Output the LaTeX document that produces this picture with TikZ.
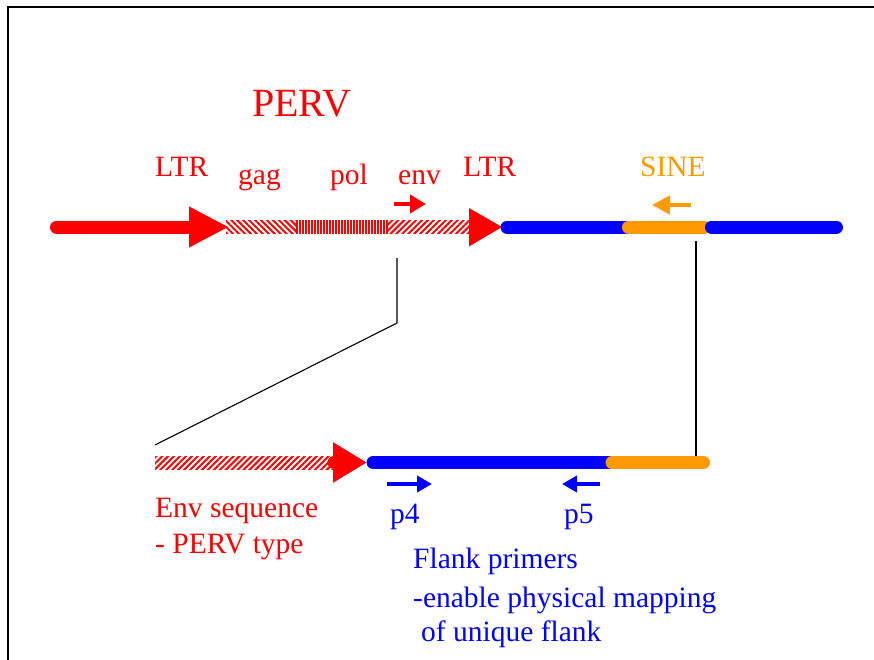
\documentclass[tikz,border=0pt]{standalone}
\usepackage{fontspec}
\setmainfont{Liberation Serif}
\usetikzlibrary{arrows.meta,patterns.meta}
\definecolor{pervred}{HTML}{FF0000}
\definecolor{flankblue}{HTML}{0000FF}
\definecolor{sineorange}{HTML}{FF9900}
\tikzset{
  lbl/.style={anchor=base west, inner sep=0pt, font=\fontsize{29.5}{35}\selectfont},
  redlbl/.style={lbl, text=pervred},
  bluelbl/.style={lbl, text=flankblue},
  orangelbl/.style={lbl, text=sineorange},
  thickbar/.style={line width=13pt, line cap=round},
  smallarrow/.style={line width=4pt, -{Triangle[length=16pt,width=18pt]}},
  hatch/.style={pattern color=pervred},
  connector/.style={line width=1.1pt, black},
}
\begin{document}
\begin{tikzpicture}[x=1pt,y=-1pt]
\useasboundingbox (0,0) rectangle (874,660);
% frame
\draw[line width=1.5pt] (874,7) -- (8,7) -- (8,660);

% title
\node[redlbl, font=\fontsize{40}{46}\selectfont] (perv) at (252,117) {PERV};

% labels top
\node[redlbl] (ltr1) at (155,177) {LTR};
\node[redlbl] (gag) at (238,185) {gag};
\node[redlbl] (pol) at (330,185) {pol};
\node[redlbl] (env) at (398,185) {env};
\node[redlbl] (ltr2) at (463,177) {LTR};
\node[orangelbl] (sine) at (640,177) {SINE};

% top bar
\fill[hatch, pattern={Lines[angle=-45,distance=4.2pt,line width=2pt]}] (226,220.5) rectangle (296,233.5);
\fill[hatch, pattern={Lines[angle=90,distance=3pt,line width=1.4pt]}] (296,220.5) rectangle (388,233.5);
\fill[hatch, pattern={Lines[angle=45,distance=4.2pt,line width=2pt]}] (388,220.5) rectangle (471,233.5);
\draw[thickbar, pervred, -{Triangle[length=40pt,width=38pt]}] (56.5,227) -- (229,227);
\fill[pervred] (469,208) -- (502,227) -- (469,246.5) -- cycle;
\draw[thickbar, flankblue] (507,227) -- (628.5,227);
\draw[thickbar, sineorange] (628.5,227) -- (704.5,227);
\draw[thickbar, flankblue] (711.5,227) -- (836.5,227);

% small arrows
\coordinate (envA) at (394,204);
\coordinate (envB) at (426,204);
\draw[smallarrow, pervred] (envA) -- (envB);
\coordinate (sineA) at (691,205);
\coordinate (sineB) at (652,205);
\draw[smallarrow, sineorange, -{Triangle[length=18pt,width=18pt]}] (sineA) -- (sineB);

% connectors
\coordinate (c1) at (397,258);
\coordinate (c2) at (397,323);
\coordinate (c3) at (155,445);
\draw[connector] (c1) -- (c2) -- (c3);
\coordinate (d1) at (696,241);
\coordinate (d2) at (696,460);
\draw[connector] (d1) -- (d2);

% bottom bar
\fill[hatch, pattern={Lines[angle=45,distance=4.2pt,line width=2pt]}] (155,456) rectangle (336,469);
\draw[thickbar, pervred, -{Triangle[length=34pt,width=38pt]}] (334,462.5) -- (367,462.5);
\draw[thickbar, flankblue] (373,462.5) -- (612,462.5);
\draw[thickbar, sineorange] (612,462.5) -- (703.5,462.5);

% primers
\coordinate (p4A) at (387,484);
\coordinate (p4B) at (432,484);
\draw[smallarrow, flankblue, -{Triangle[length=15pt,width=16pt]}] (p4A) -- (p4B);
\coordinate (p5A) at (600,484);
\coordinate (p5B) at (562,484);
\draw[smallarrow, flankblue, -{Triangle[length=15pt,width=16pt]}] (p5A) -- (p5B);

% bottom labels
\node[redlbl] (envseq) at (155,517) {Env sequence};
\node[redlbl] (pervtype) at (155,553) {- PERV type};
\node[bluelbl] (p4) at (390,523) {p4};
\node[bluelbl] (p5) at (564,523) {p5};
\node[bluelbl] (flank1) at (413,568) {Flank primers};
\node[bluelbl] (flank2) at (413,607) {-enable physical mapping};
\node[bluelbl] (flank3) at (421,641) {of unique flank};
\end{tikzpicture}
\end{document}
